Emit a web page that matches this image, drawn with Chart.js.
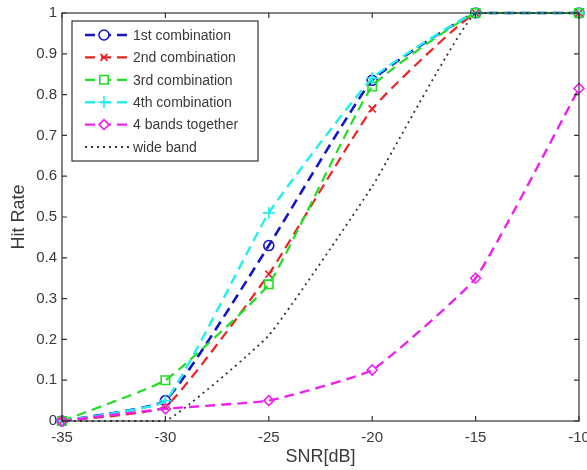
<!DOCTYPE html>
<html>
<head>
<meta charset="utf-8">
<script src="https://cdn.jsdelivr.net/npm/chart.js@4.4.1/dist/chart.umd.min.js"></script>
<style>
  html, body { margin: 0; padding: 0; background: #fff; }
  #wrap { width: 587px; height: 470px; }
</style>
</head>
<body>
<div id="wrap"><canvas id="grafico"></canvas></div>
<script>
// SNR em dB (eixo x)
const snr = [-35, -30, -25, -20, -15, -10]
const yTicks = [0, 0.1, 0.2, 0.3, 0.4, 0.5, 0.6, 0.7, 0.8, 0.9, 1]

// hit rate
const comb1 = [0, 0.05, 0.43, 0.835, 1, 1]
const comb2 = [0, 0.035, 0.36, 0.765, 1, 1]
const comb3 = [0, 0.1, 0.335, 0.82, 1, 1]
const comb4 = [0, 0.05, 0.51, 0.84, 1, 1]
const bands4 = [0, 0.03, 0.05, 0.125, 0.35, 0.815]
const wideBand = [0, 0, 0.21, 0.575, 1, 1]

const labels = ['1st combination', '2nd combination', '3rd combination', '4th combination', '4 bands together', 'wide band']

function pontos(valores){
    return snr.map((x, i) => ({ x: x, y: valores[i] }))
}

function serie(label, valores, cor, estilo, raio, tracejado, largura, ordem){
    return {
        label: label,
        data: pontos(valores),
        order: ordem,
        borderColor: cor,
        backgroundColor: 'transparent',
        borderWidth: largura,
        borderDash: tracejado,
        pointStyle: estilo,
        pointRadius: raio,
        pointBorderColor: cor,
        pointBackgroundColor: 'transparent',
        pointBorderWidth: 1.6,
        tension: 0.12,
        clip: false
    }
}

// ordem maior desenha primeiro (as ultimas series ficam por cima, como no matlab)
const datasets = [
    serie(labels[0], comb1, '#1414c8', 'circle', 5, [10, 6], 2.6, 10),
    serie(labels[1], comb2, '#ee2222', 'crossRot', 5, [10, 6], 2.2, 9),
    serie(labels[2], comb3, '#22dd22', 'rect', 6, [10, 6], 2.2, 8),
    serie(labels[3], comb4, '#22eeee', 'cross', 6, [10, 6], 2.4, 7),
    serie(labels[4], bands4, '#ee22ee', 'rectRot', 5, [10, 6], 2.4, 6),
    serie(labels[5], wideBand, '#333333', false, 0, [2, 4], 1.8, 5)
]

const corTexto = '#3a3a3a'

// moldura estilo matlab: caixa fechada com ticks para dentro
const moldura = {
    id: 'moldura',
    afterDatasetsDraw(chart){
        const ctx = chart.ctx
        const a = chart.chartArea
        const sx = chart.scales.x
        const sy = chart.scales.y
        ctx.save()
        ctx.strokeStyle = '#333'
        ctx.lineWidth = 1.2
        ctx.strokeRect(a.left, a.top, a.right - a.left, a.bottom - a.top)
        ctx.beginPath()
        snr.forEach(v => {
            const px = sx.getPixelForValue(v)
            ctx.moveTo(px, a.bottom); ctx.lineTo(px, a.bottom - 5)
            ctx.moveTo(px, a.top); ctx.lineTo(px, a.top + 5)
        })
        yTicks.forEach(v => {
            const py = sy.getPixelForValue(v)
            ctx.moveTo(a.left, py); ctx.lineTo(a.left + 5, py)
            ctx.moveTo(a.right, py); ctx.lineTo(a.right - 5, py)
        })
        ctx.stroke()
        ctx.restore()
    }
}

// legenda dentro da area do grafico
const legendaDentro = {
    id: 'legendaDentro',
    afterDraw(chart){
        const ctx = chart.ctx
        const a = chart.chartArea
        const x0 = a.left + 10
        const y0 = a.top + 8
        const w = 186
        const h = 140
        const passo = 22.4
        ctx.save()
        ctx.fillStyle = '#fff'
        ctx.fillRect(x0, y0, w, h)
        ctx.strokeStyle = '#333'
        ctx.lineWidth = 1.2
        ctx.strokeRect(x0, y0, w, h)
        ctx.font = '14px "Liberation Sans", Arial, sans-serif'
        ctx.textBaseline = 'middle'
        chart.data.datasets.forEach((ds, i) => {
            const cy = y0 + 14 + i * passo
            ctx.strokeStyle = ds.borderColor
            ctx.lineWidth = ds.borderWidth
            ctx.setLineDash(ds.borderDash)
            ctx.beginPath()
            ctx.moveTo(x0 + 13, cy)
            ctx.lineTo(x0 + 58, cy)
            ctx.stroke()
            ctx.setLineDash([])
            if (ds.pointStyle){
                ctx.lineWidth = ds.pointBorderWidth
                ctx.strokeStyle = ds.pointBorderColor
                ctx.fillStyle = '#fff'
                Chart.helpers.drawPoint(ctx, {
                    pointStyle: ds.pointStyle,
                    radius: ds.pointRadius,
                    rotation: 0,
                    borderWidth: ds.pointBorderWidth
                }, x0 + 32, cy)
            }
            ctx.fillStyle = corTexto
            ctx.fillText(ds.label, x0 + 61, cy + 1)
        })
        ctx.restore()
    }
}

const ctx = document.getElementById('grafico')

new Chart(ctx, {
    type: 'line',
    data: { datasets: datasets },
    options: {
        responsive: true,
        maintainAspectRatio: false,
        animation: false,
        layout: { padding: { left: 0, right: 8, top: 13, bottom: 0 } },
        plugins: {
            legend: { display: false },
            tooltip: { enabled: false }
        },
        scales: {
            x: {
                type: 'linear',
                min: -35,
                max: -10,
                afterBuildTicks: scale => { scale.ticks = snr.map(v => ({ value: v })) },
                afterFit: scale => {
                    scale.height = 49
                    scale.paddingLeft = 0
                    scale.paddingRight = 0
                },
                grid: { display: false, drawTicks: false },
                border: { display: false },
                ticks: {
                    padding: 8,
                    color: corTexto,
                    font: { family: '"Liberation Sans", Arial, sans-serif', size: 15 },
                    maxRotation: 0,
                    callback: v => String(v)
                },
                title: {
                    display: true,
                    text: 'SNR[dB]',
                    color: corTexto,
                    font: { family: '"Liberation Sans", Arial, sans-serif', size: 18 },
                    padding: { top: 0, bottom: 2 }
                }
            },
            y: {
                min: 0,
                max: 1,
                afterBuildTicks: scale => { scale.ticks = yTicks.map(v => ({ value: v })) },
                afterFit: scale => {
                    scale.width = 62
                    scale.paddingTop = 0
                    scale.paddingBottom = 0
                },
                grid: { display: false, drawTicks: false },
                border: { display: false },
                ticks: {
                    padding: 5,
                    color: corTexto,
                    font: { family: '"Liberation Sans", Arial, sans-serif', size: 15 },
                    callback: v => String(Math.round(v * 10) / 10)
                },
                title: {
                    display: true,
                    text: 'Hit Rate',
                    color: corTexto,
                    font: { family: '"Liberation Sans", Arial, sans-serif', size: 18 },
                    padding: { top: 8, bottom: 0 }
                }
            }
        }
    },
    plugins: [moldura, legendaDentro]
})
</script>
</body>
</html>
